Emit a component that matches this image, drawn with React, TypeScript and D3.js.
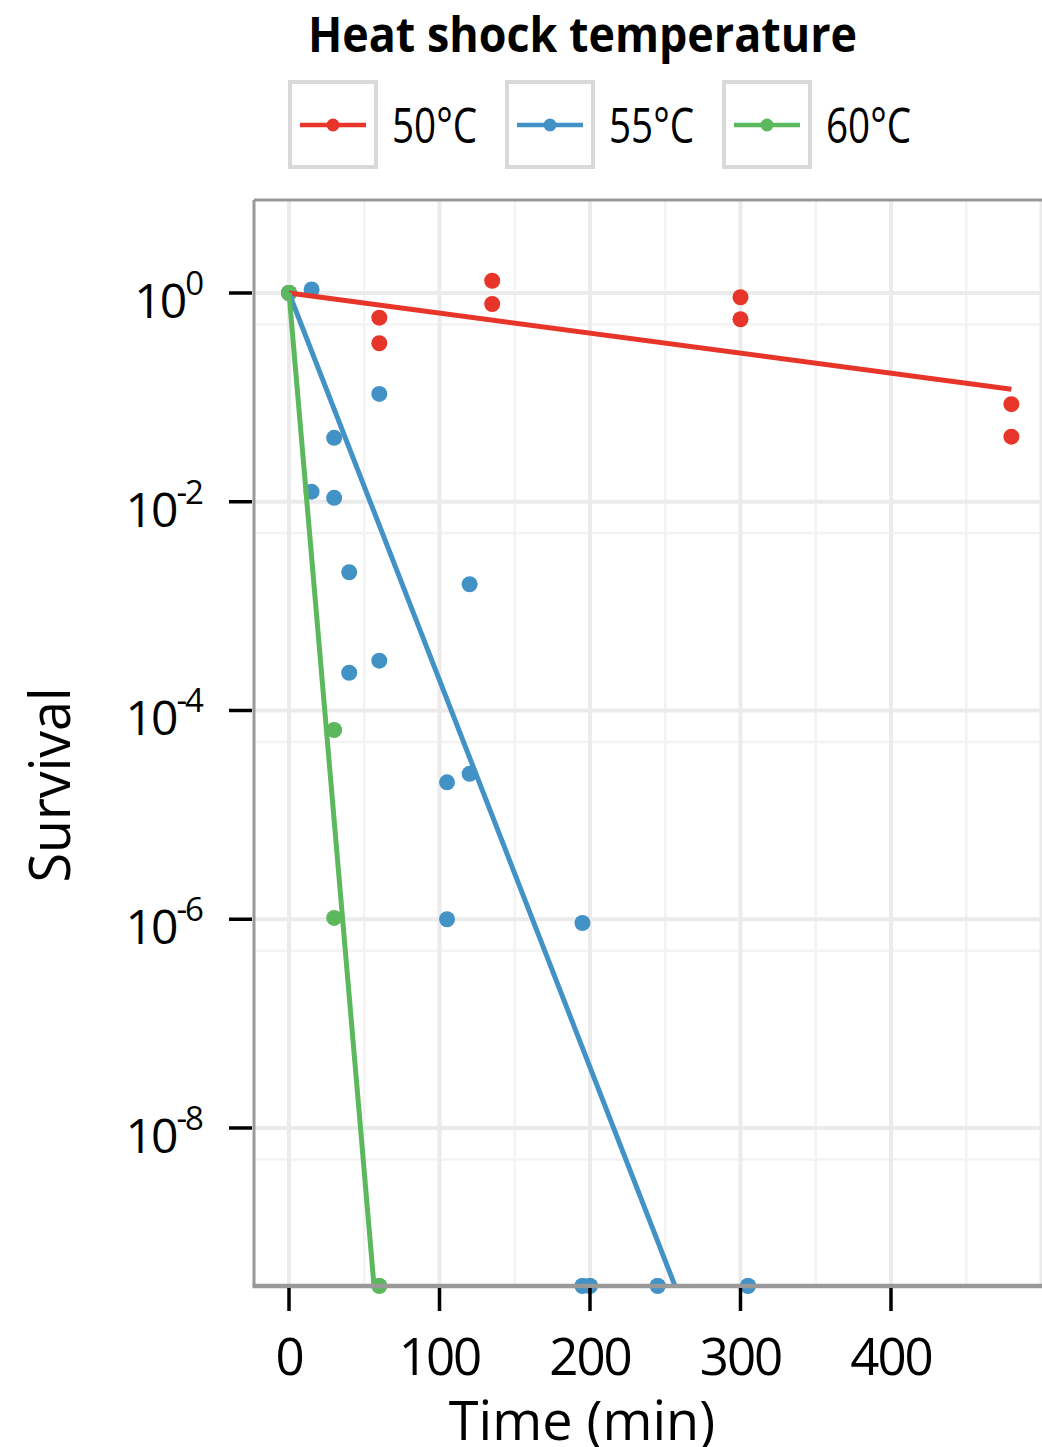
import React from 'react';
import * as d3 from 'd3';

// ---- data ----
const SERIES = ['50°C', '55°C', '60°C'];
const COLORS = ['#e8352a', '#4292c6', '#5cb85c'];

// 0 = below detection: drawn at the lower limit of the axis
const time50 = [0, 60, 60, 135, 135, 300, 300, 480, 480];
const surv50 = [1, 0.58, 0.33, 1.31, 0.785, 0.91, 0.56, 0.086, 0.042];

const time55 = [0, 15, 15, 30, 30, 40, 40, 60, 60, 105, 105, 120, 120, 195, 195, 200, 245, 305];
const surv55 = [1, 1.08, 0.0125, 0.041, 0.0109, 0.00211, 0.00023, 0.108, 0.0003, 0.0000205, 0.000001, 0.00162, 0.0000247, 0.00000092, 0, 0, 0, 0];

const time60 = [0, 30, 30, 60];
const surv60 = [1, 0.000065, 0.00000103, 0];

// fitted log10-survival slope per minute, and the time span of each fit
const fitSlope = [-0.001923, -0.03709, -0.1684];
const fitEnd = [480, 305, 60];

const xTicks = [0, 100, 200, 300, 400];
const xMajorGrid = [0, 100, 200, 300, 400, 500];
const xMinorGrid = [50, 150, 250, 350, 450];
const yTickExp = [0, -2, -4, -6, -8];
const yMinorGrid = [0.5, 0.005, 0.00005, 0.0000005, 0.000000005];

const X_DOMAIN = [-23.26, 504];
const Y_DOMAIN = [Math.pow(10, -9.514), Math.pow(10, 0.891)];

const FONT = "'Open Sans', 'Noto Sans', sans-serif";

export default function App() {
  const W = 1042, H = 1447;
  const left = 254, top = 200, right = 1047.5, bottom = 1286;
  const x = d3.scaleLinear().domain(X_DOMAIN).range([left, right]);
  const y = d3.scaleLog().domain(Y_DOMAIN).range([bottom, top]);
  const yv = (v: number) => y(v <= 0 ? Y_DOMAIN[0] : v);

  const series = [
    { t: time50, s: surv50 },
    { t: time55, s: surv55 },
    { t: time60, s: surv60 },
  ];

  const line = d3.line<[number, number]>().x(d => x(d[0])).y(d => y(d[1]));

  return (
    <svg width={W} height={H} style={{ position: 'absolute', left: 0, top: 0, display: 'block', background: '#fff' }} fontFamily={FONT}>
      <defs>
        <clipPath id="panel">
          <rect x={left} y={top} width={right - left} height={bottom - top} />
        </clipPath>
      </defs>
      {/* title */}
      <text x={582.5} y={52} textAnchor="middle" fontSize={49} fontWeight="bold" textLength={549} lengthAdjust="spacingAndGlyphs">Heat shock temperature</text>
      {/* legend */}
      {SERIES.map((name, i) => {
        const bx = 290 + i * 217;
        return (
          <g key={name}>
            <rect x={bx} y={82} width={86} height={85} fill="#fff" stroke="#d9d9d9" strokeWidth={4} />
            <line x1={bx + 10} x2={bx + 76} y1={125} y2={125} stroke={COLORS[i]} strokeWidth={4.5} />
            <circle cx={bx + 43} cy={125} r={6.5} fill={COLORS[i]} />
            <text x={bx + 102} y={143} fontSize={49} textLength={85} lengthAdjust="spacingAndGlyphs">{name}</text>
          </g>
        );
      })}
      {/* grid */}
      <g>
        {xMinorGrid.map(v => (
          <line key={'xm' + v} x1={x(v)} x2={x(v)} y1={top} y2={bottom} stroke="#f3f3f3" strokeWidth={2.5} />
        ))}
        {yMinorGrid.map(v => (
          <line key={'ym' + v} x1={left} x2={right} y1={y(v)} y2={y(v)} stroke="#f3f3f3" strokeWidth={2.5} />
        ))}
        {xMajorGrid.map(v => (
          <line key={'xM' + v} x1={x(v)} x2={x(v)} y1={top} y2={bottom} stroke="#ebebeb" strokeWidth={4} />
        ))}
        {yTickExp.map(e => (
          <line key={'yM' + e} x1={left} x2={right} y1={y(Math.pow(10, e))} y2={y(Math.pow(10, e))} stroke="#ebebeb" strokeWidth={4} />
        ))}
      </g>
      {/* data */}
      <g clipPath="url(#panel)">
        {series.map((sr, i) => (
          <g key={'p' + i}>
            {sr.t.map((t, j) => (
              <circle key={j} cx={x(t)} cy={yv(sr.s[j])} r={8} fill={COLORS[i]} />
            ))}
          </g>
        ))}
      </g>
      {/* points on the floor are not clipped in half */}
      <g>
        {series.map((sr, i) => (
          <g key={'f' + i}>
            {sr.t.map((t, j) => sr.s[j] <= 0 ? (
              <circle key={j} cx={x(t)} cy={yv(sr.s[j])} r={8} fill={COLORS[i]} />
            ) : null)}
          </g>
        ))}
      </g>
      <g clipPath="url(#panel)">
        {fitSlope.map((k, i) => {
          const pts: [number, number][] = [[0, 1], [fitEnd[i], Math.pow(10, k * fitEnd[i])]];
          return <path key={'l' + i} d={line(pts) || ''} fill="none" stroke={COLORS[i]} strokeWidth={5} />;
        })}
      </g>
      {/* panel border */}
      <line x1={left} x2={right} y1={top} y2={top} stroke="#999" strokeWidth={3} />
      <line x1={left} x2={left} y1={top} y2={bottom} stroke="#999" strokeWidth={3} />
      <line x1={left - 1.5} x2={right} y1={bottom} y2={bottom} stroke="#999" strokeWidth={4.5} />
      {/* y axis */}
      {yTickExp.map(e => {
        const yy = y(Math.pow(10, e));
        return (
          <g key={'yt' + e}>
            <line x1={229} x2={252} y1={yy} y2={yy} stroke="#000" strokeWidth={3.5} />
            <text x={202} y={yy + 25} textAnchor="end" fontSize={48} letterSpacing={-2}>
              10<tspan dy={-23} fontSize={33}>{e === 0 ? '0' : '-' + Math.abs(e)}</tspan>
            </text>
          </g>
        );
      })}
      {/* x axis */}
      {xTicks.map(v => (
        <g key={'xt' + v}>
          <line x1={x(v)} x2={x(v)} y1={1288} y2={1311} stroke="#000" strokeWidth={3.5} />
          <text x={x(v)} y={1375} textAnchor="middle" fontSize={51} letterSpacing={-2}>{v}</text>
        </g>
      ))}
      <text x={582} y={1440} textAnchor="middle" fontSize={54}>Time (min)</text>
      <text transform="translate(70,785) rotate(-90)" textAnchor="middle" fontSize={56} textLength={195} lengthAdjust="spacingAndGlyphs">Survival</text>
    </svg>
  );
}
